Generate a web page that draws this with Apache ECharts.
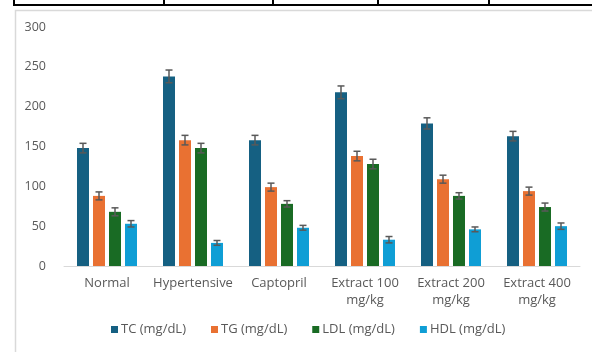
<!DOCTYPE html>
<html>
<head>
<meta charset="utf-8">
<script src="https://cdn.jsdelivr.net/npm/echarts@6/dist/echarts.min.js"></script>
<style>
html,body{margin:0;padding:0;background:#fff;}
#chart{width:592px;height:352px;}
</style>
</head>
<body>
<div id="chart"></div>
<script>
var categories = ['Normal', 'Hypertensive', 'Captopril', 'Extract 100\nmg/kg', 'Extract 200\nmg/kg', 'Extract 400\nmg/kg'];
var seriesNames = ['TC (mg/dL)', 'TG (mg/dL)', 'LDL (mg/dL)', 'HDL (mg/dL)'];
var tcValues  = [148, 238, 158, 218, 179, 163];
var tgValues  = [88, 158, 99, 138, 109, 94];
var ldlValues = [68, 148, 78, 128, 88, 74];
var hdlValues = [53, 29, 48, 33, 46, 50];
var tcErr  = [6, 8, 6, 8, 7, 6];
var tgErr  = [5, 6, 5, 6, 5, 5];
var ldlErr = [5, 6, 4, 6, 4, 5];
var hdlErr = [4, 3, 3, 4, 3, 4];
var yTicks = [0, 50, 100, 150, 200, 250, 300];

var colors = ['#156082', '#E97132', '#196B24', '#0F9ED5'];
var allValues = [tcValues, tgValues, ldlValues, hdlValues];
var allErr = [tcErr, tgErr, ldlErr, hdlErr];

var BAR_W = 12, GAP = 4;
var FONT = 'Open Sans';

var series = [];
allValues.forEach(function (vals, i) {
  series.push({
    name: seriesNames[i],
    type: 'bar',
    data: vals,
    barWidth: BAR_W,
    barGap: (GAP / BAR_W * 100) + '%',
    itemStyle: { color: colors[i] },
    z: 2
  });
});
allValues.forEach(function (vals, i) {
  var offset = (i - 1.5) * (BAR_W + GAP);
  series.push({
    name: 'err' + i,
    type: 'custom',
    z: 5,
    data: vals.map(function (v, k) { return [k, v, allErr[i][k]]; }),
    renderItem: function (params, api) {
      var c = api.value(0), v = api.value(1), e = api.value(2);
      var hi = api.coord([c, v + e]);
      var lo = api.coord([c, v - e]);
      var x = hi[0] + offset;
      var hw = 3.5;
      var st = { stroke: '#595959', lineWidth: 1.5 };
      return {
        type: 'group',
        children: [
          { type: 'line', shape: { x1: x, y1: hi[1], x2: x, y2: lo[1] }, style: st },
          { type: 'line', shape: { x1: x - hw, y1: hi[1], x2: x + hw, y2: hi[1] }, style: st },
          { type: 'line', shape: { x1: x - hw, y1: lo[1], x2: x + hw, y2: lo[1] }, style: st }
        ]
      };
    },
    tooltip: { show: false }
  });
});

var chart = echarts.init(document.getElementById('chart'));
chart.setOption({
  animation: false,
  backgroundColor: '#ffffff',
  textStyle: { fontFamily: FONT },
  grid: { left: 64, right: 12, top: 27, bottom: 86, containLabel: false },
  legend: {
    data: seriesNames,
    bottom: 11,
    left: 106,
    itemWidth: 7,
    itemHeight: 7,
    itemGap: 25,
    icon: 'rect',
    textStyle: { fontFamily: FONT, fontSize: 13, color: '#595959', padding: [0, 0, 0, -2] }
  },
  xAxis: {
    type: 'category',
    data: categories,
    axisLine: { lineStyle: { color: '#d9d9d9', width: 1 } },
    axisTick: { show: false },
    axisLabel: { fontFamily: FONT, fontSize: 13, color: '#595959', margin: 9, lineHeight: 17, interval: 0 }
  },
  yAxis: {
    type: 'value',
    min: yTicks[0],
    max: yTicks[yTicks.length - 1],
    interval: 50,
    axisLine: { show: false },
    axisTick: { show: false },
    splitLine: { show: false },
    axisLabel: { fontFamily: FONT, fontSize: 12.5, color: '#595959', margin: 18 }
  },
  graphic: [
    { type: 'polyline', silent: true, shape: { points: [[15.5, 352], [15.5, 10.5], [592, 10.5]] }, style: { stroke: '#d9d9d9', lineWidth: 1.5, fill: null } },
    { type: 'line', silent: true, shape: { x1: 13, y1: 5, x2: 592, y2: 5 }, style: { stroke: '#000', lineWidth: 2 } },
    { type: 'line', silent: true, shape: { x1: 14, y1: 0, x2: 14, y2: 6 }, style: { stroke: '#000', lineWidth: 2 } },
    { type: 'line', silent: true, shape: { x1: 164, y1: 0, x2: 164, y2: 6 }, style: { stroke: '#000', lineWidth: 2 } },
    { type: 'line', silent: true, shape: { x1: 273, y1: 0, x2: 273, y2: 6 }, style: { stroke: '#000', lineWidth: 2 } },
    { type: 'line', silent: true, shape: { x1: 378, y1: 0, x2: 378, y2: 6 }, style: { stroke: '#000', lineWidth: 2 } },
    { type: 'line', silent: true, shape: { x1: 489, y1: 0, x2: 489, y2: 6 }, style: { stroke: '#000', lineWidth: 2 } }
  ],
  series: series
});
</script>
</body>
</html>
